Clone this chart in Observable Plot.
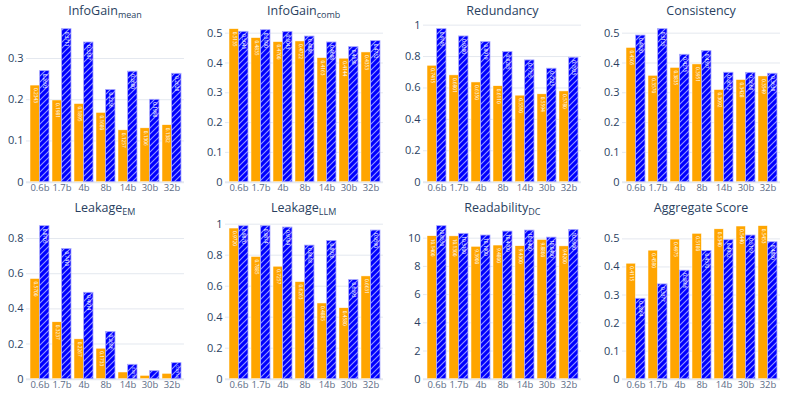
<!DOCTYPE html>
<html><head><meta charset="utf-8">
<script src="https://cdn.jsdelivr.net/npm/d3@7"></script>
<script src="https://cdn.jsdelivr.net/npm/@observablehq/plot@0.6"></script>
<style>
body{margin:0;background:#fff;font-family:"Open Sans",sans-serif;}
#chart{position:relative;width:793px;height:397px;overflow:hidden;background:#fff;}
.panel{position:absolute;}
.title{position:absolute;width:200px;text-align:center;font-size:12.5px;color:#2a3f5f;white-space:nowrap;line-height:14px;}
.title sub{font-size:9px;vertical-align:-3px;line-height:0;}
</style></head><body>
<svg width="0" height="0" style="position:absolute">
  <defs>
    <pattern id="hatch" patternUnits="userSpaceOnUse" width="6" height="6">
      <rect width="6" height="6" fill="#0000ff"></rect>
      <path d="M0,6 L6,0 M-1.5,1.5 L1.5,-1.5 M4.5,7.5 L7.5,4.5" stroke="rgba(200,205,255,0.75)" stroke-width="1.1"></path>
    </pattern>
  </defs>
</svg>
<div id="chart"></div>
<script>
const sizes = ["0.6b", "1.7b", "4b", "8b", "14b", "30b", "32b"];

const titleMain = ["InfoGain", "InfoGain", "Redundancy", "Consistency", "Leakage", "Leakage", "Readability", "Aggregate Score"];
const titleSub  = ["mean", "comb", "", "", "EM", "LLM", "DC", ""];

const infoGainMeanA = [0.2343, 0.1981, 0.1895, 0.1680, 0.1257, 0.1306, 0.1382];
const infoGainMeanB = [0.2693, 0.3711, 0.3387, 0.2236, 0.2680, 0.1998, 0.2628];
const infoGainCombA = [0.5135, 0.4835, 0.4700, 0.4722, 0.4163, 0.4144, 0.4353];
const infoGainCombB = [0.5045, 0.5100, 0.5043, 0.4886, 0.4688, 0.4530, 0.4732];
const redundancyA   = [0.7415, 0.6801, 0.6350, 0.6110, 0.5510, 0.5594, 0.5780];
const redundancyB   = [0.9745, 0.9280, 0.8919, 0.8285, 0.7755, 0.7225, 0.7925];
const consistencyA  = [0.4505, 0.3570, 0.3835, 0.3951, 0.3092, 0.3428, 0.3549];
const consistencyB  = [0.4920, 0.5135, 0.4275, 0.4397, 0.3672, 0.3668, 0.3638];
const leakageEmA    = [0.5700, 0.3237, 0.2267, 0.1733, 0.0381, 0.0190, 0.0305];
const leakageEmB    = [0.8705, 0.7410, 0.4914, 0.2686, 0.0819, 0.0457, 0.0914];
const leakageLlmA   = [0.9720, 0.7885, 0.7257, 0.6263, 0.4885, 0.4580, 0.6631];
const leakageLlmB   = [0.9870, 0.9874, 0.9784, 0.8618, 0.8920, 0.6393, 0.9590];
const readabilityA  = [10.14, 10.13, 9.39, 9.48, 9.43, 9.88, 9.42];
const readabilityB  = [10.855, 10.31, 10.19, 10.47, 10.54, 10.04, 10.59];
const aggregateA    = [0.4115, 0.4580, 0.4975, 0.5180, 0.5340, 0.5440, 0.5453];
const aggregateB    = [0.2864, 0.3377, 0.3866, 0.4570, 0.4952, 0.5119, 0.4880];

const yTicks = [
  [0, 0.1, 0.2, 0.3],
  [0, 0.1, 0.2, 0.3, 0.4, 0.5],
  [0, 0.2, 0.4, 0.6, 0.8, 1],
  [0, 0.1, 0.2, 0.3, 0.4, 0.5],
  [0, 0.2, 0.4, 0.6, 0.8],
  [0, 0.2, 0.4, 0.6, 0.8, 1],
  [0, 2, 4, 6, 8, 10],
  [0, 0.1, 0.2, 0.3, 0.4, 0.5]
];

const seriesA = [infoGainMeanA, infoGainCombA, redundancyA, consistencyA, leakageEmA, leakageLlmA, readabilityA, aggregateA];
const seriesB = [infoGainMeanB, infoGainCombB, redundancyB, consistencyB, leakageEmB, leakageLlmB, readabilityB, aggregateB];

const chart = document.getElementById("chart");
const ML = 30, MR = 11, MT = 21, MB = 16, PW = 158, PH = 160.7;
const colLeft = [26, 224.7, 423.4, 622.1];
const rowTop = [0, 196.6];

function panel(i) {
  const A = seriesA[i], B = seriesB[i];
  const max = Math.max(...A, ...B) * 1.05;
  const data = sizes.map((s, k) => ({s, a: A[k], b: B[k]}));
  const step = PW / 7, bw = step * 0.85, half = bw / 2;
  const fsz = v => {
    const h = v / max * PH;
    const f = Math.min(4.8, (h - 3) / 3.4);
    return f < 2 ? 0 : f;
  };
  const la = data.filter(d => fsz(d.a) > 0);
  const lb = data.filter(d => fsz(d.b) > 0);
  return Plot.plot({
    width: ML + PW + MR,
    height: MT + PH + MB,
    marginLeft: ML, marginRight: MR, marginTop: MT, marginBottom: MB,
    style: {fontFamily: "Open Sans", background: "transparent", overflow: "visible"},
    x: {domain: sizes, paddingInner: 0.15, paddingOuter: 0.075, axis: null},
    y: {domain: [0, max], axis: null},
    marks: [
      Plot.ruleY(yTicks[i], {stroke: "#e4e8ef", strokeWidth: d => d === 0 ? 2 : 1}),
      Plot.axisY({ticks: yTicks[i], tickSize: 0, tickPadding: 3, fontSize: 11, color: "#2a3f5f",
        tickFormat: d => String(+d.toFixed(4)), label: null}),
      Plot.axisX({tickSize: 0, tickPadding: 2, fontSize: 9.5, color: "#5b6b86", label: null}),
      Plot.barY(data, {x: "s", y: "a", fill: "#ffa500", insetRight: half, stroke: "white", strokeWidth: 0.5}),
      Plot.barY(data, {x: "s", y: "b", fill: "url(#hatch)", insetLeft: half, stroke: "#a8a8ff", strokeWidth: 0.8}),
      Plot.text(la, {x: "s", y: "a", text: d => d.a.toFixed(4), rotate: 90, textAnchor: "start",
        lineAnchor: "middle", dx: -half / 2, dy: 2.5, fill: "white", fontSize: d => fsz(d.a)}),
      Plot.text(lb, {x: "s", y: "b", text: d => d.b.toFixed(4), rotate: 90, textAnchor: "start",
        lineAnchor: "middle", dx: half / 2, dy: 2.5, fill: "white", fontSize: d => fsz(d.b)})
    ]
  });
}

for (let i = 0; i < 8; i++) {
  const r = Math.floor(i / 4), c = i % 4;
  const svg = panel(i);
  const wrap = document.createElement("div");
  wrap.className = "panel";
  wrap.style.left = (colLeft[c] - ML) + "px";
  wrap.style.top = rowTop[r] + "px";
  wrap.appendChild(svg);
  chart.appendChild(wrap);

  const t = document.createElement("div");
  t.className = "title";
  t.style.left = (colLeft[c] + PW / 2 - 100) + "px";
  t.style.top = (rowTop[r] + 4) + "px";
  t.innerHTML = titleMain[i] + (titleSub[i] ? "<sub>" + titleSub[i] + "</sub>" : "");
  chart.appendChild(t);
}
</script>
</body></html>
